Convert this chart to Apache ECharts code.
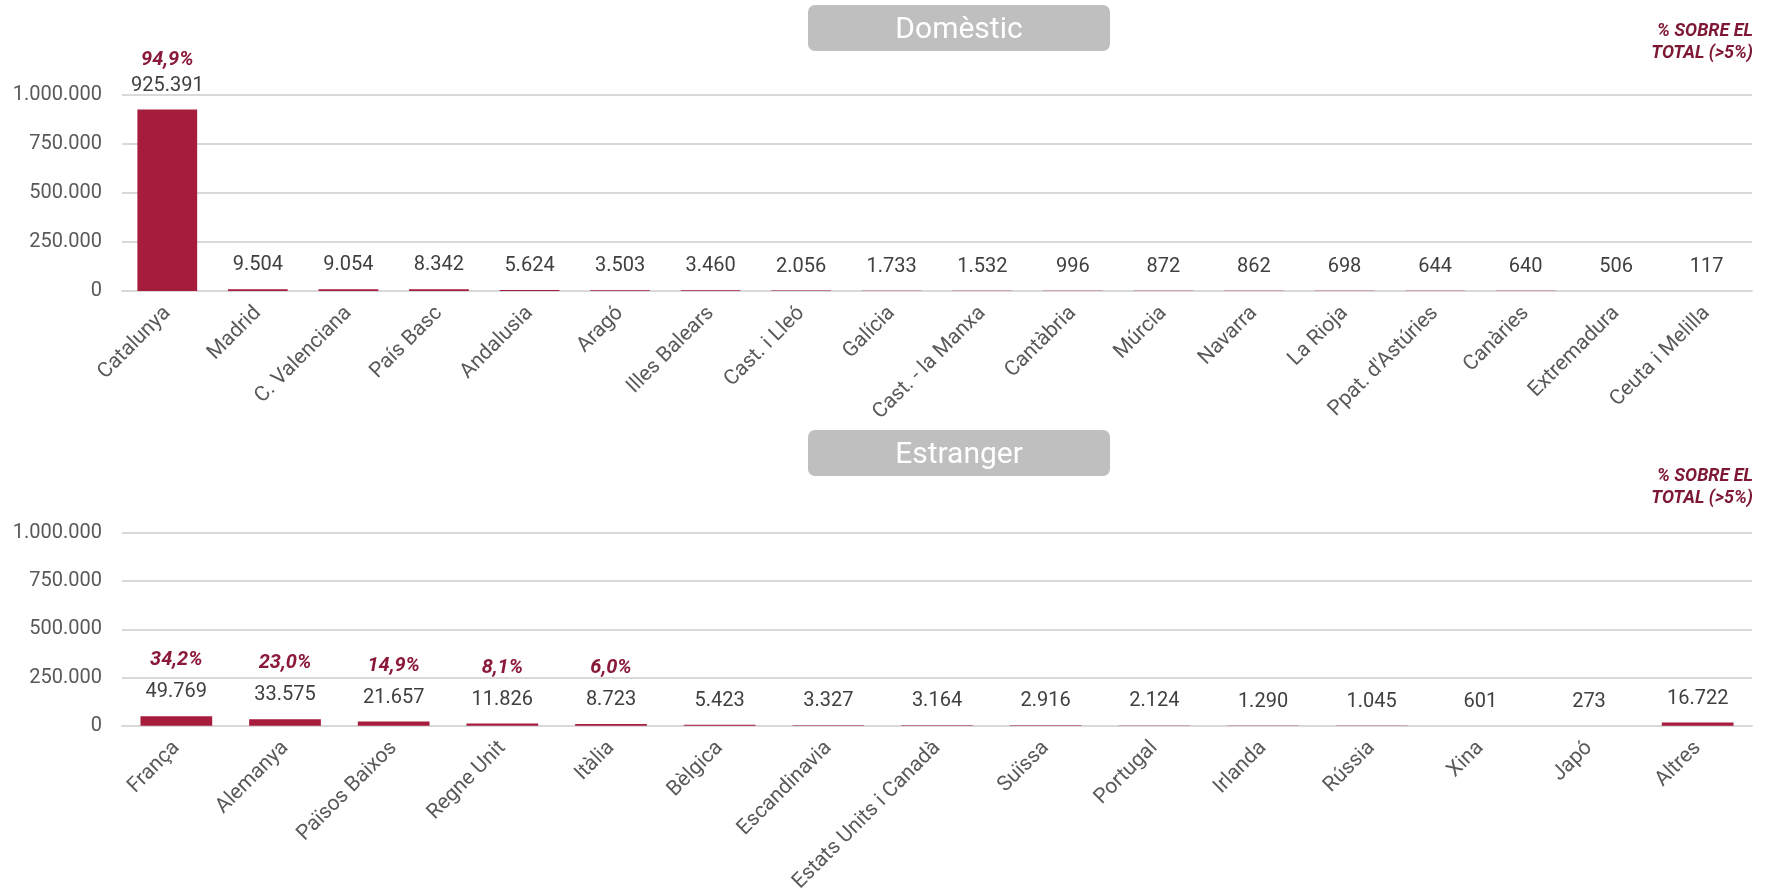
<!DOCTYPE html>
<html>
<head>
<meta charset="utf-8">
<style>
  html, body { margin: 0; padding: 0; background: #ffffff; }
  #chart { width: 1768px; height: 895px; }
</style>
<script src="https://cdn.jsdelivr.net/npm/echarts@6/dist/echarts.min.js"></script>
</head>
<body>
<div id="chart"></div>
<script>
// Visitors by origin: domestic regions and foreign countries
const domesticCategories = ['Catalunya', 'Madrid', 'C. Valenciana', 'País Basc', 'Andalusia', 'Aragó',
  'Illes Balears', 'Cast. i Lleó', 'Galícia', 'Cast. - la Manxa', 'Cantàbria', 'Múrcia', 'Navarra',
  'La Rioja', "Ppat. d'Astúries", 'Canàries', 'Extremadura', 'Ceuta i Melilla'];
const domesticValues = [925391, 9504, 9054, 8342, 5624, 3503, 3460, 2056, 1733, 1532, 996, 872, 862,
  698, 644, 640, 506, 117];
const domesticShare = [94.9, null, null, null, null, null, null, null, null, null, null, null, null,
  null, null, null, null, null];

const foreignCategories = ['França', 'Alemanya', 'Països Baixos', 'Regne Unit', 'Itàlia', 'Bèlgica',
  'Escandinavia', 'Estats Units i Canadà', 'Suïssa', 'Portugal', 'Irlanda', 'Rússia', 'Xina', 'Japó', 'Altres'];
const foreignValues = [49769, 33575, 21657, 11826, 8723, 5423, 3327, 3164, 2916, 2124, 1290, 1045, 601, 273, 16722];
const foreignShare = [34.2, 23.0, 14.9, 8.1, 6.0, null, null, null, null, null, null, null, null, null, null];

const yTicks = { min: 0, max: 1000000, interval: 250000 };
const panelTitles = ['Domèstic', 'Estranger'];
const shareNote = '% SOBRE EL\nTOTAL (>5%)';

const FONT = 'Roboto, "Noto Sans", sans-serif';
const BAR = '#A61C3C';
const SHARE = '#8B1A3A';

function thousands(n) {
  return String(n).replace(/\B(?=(\d{3})+(?!\d))/g, '.');
}
function shareText(p) {
  return p.toFixed(1).replace('.', ',') + '%';
}

function barSeries(idx, values, shares, shareLineHeight) {
  return {
    type: 'bar',
    xAxisIndex: idx,
    yAxisIndex: idx,
    barWidth: '66%',
    data: values,
    itemStyle: { color: BAR },
    label: {
      show: true,
      position: 'top',
      distance: 12,
      formatter: function (p) {
        const s = shares[p.dataIndex];
        const v = '{v|' + thousands(p.value) + '}';
        return s == null ? v : '{p|' + shareText(s) + '}\n' + v;
      },
      rich: {
        v: { fontFamily: FONT, fontSize: 20, color: '#404040', lineHeight: 24 },
        p: { fontFamily: FONT, fontSize: 20, fontWeight: 'bold', fontStyle: 'italic',
             color: SHARE, lineHeight: shareLineHeight }
      }
    }
  };
}

function xAxis(idx, cats) {
  return {
    type: 'category',
    gridIndex: idx,
    data: cats,
    axisTick: { show: false },
    axisLine: { show: true, lineStyle: { color: '#D9D9D9', width: 2 } },
    axisLabel: {
      interval: 0, rotate: 45, margin: 19,
      fontFamily: FONT, fontSize: 21, color: '#595959'
    }
  };
}

function yAxis(idx) {
  return {
    type: 'value',
    gridIndex: idx,
    min: yTicks.min, max: yTicks.max, interval: yTicks.interval,
    axisLine: { show: false },
    axisTick: { show: false },
    splitLine: { lineStyle: { color: '#D9D9D9', width: 2 } },
    axisLabel: {
      margin: 20, fontFamily: FONT, fontSize: 20, color: '#595959',
      formatter: function (v) { return thousands(v); }
    }
  };
}

function titleBox(y, text) {
  return {
    type: 'group',
    left: 808, top: y,
    children: [
      { type: 'rect', shape: { x: 0, y: 0, width: 302, height: 46, r: 7 },
        style: { fill: '#BFBFBF' } },
      { type: 'text', x: 151, y: 25,
        style: { text: text, fill: '#ffffff', font: '30px ' + FONT,
                 textAlign: 'center', textVerticalAlign: 'middle' } }
    ]
  };
}

function note(y) {
  return {
    type: 'text', x: 1753, y: y,
    style: { text: shareNote, fill: '#7D1733', font: 'italic bold 18px ' + FONT,
             textAlign: 'right', textVerticalAlign: 'top', lineHeight: 21.5 }
  };
}

const chart = echarts.init(document.getElementById('chart'));
chart.setOption({
  backgroundColor: '#ffffff',
  animation: false,
  grid: [
    { left: 122, right: 16, top: 95, height: 196 },
    { left: 122, right: 16, top: 533, height: 196 }
  ],
  xAxis: [xAxis(0, domesticCategories), xAxis(1, foreignCategories)],
  yAxis: [yAxis(0), yAxis(1)],
  series: [
    barSeries(0, domesticValues, domesticShare, 28),
    barSeries(1, foreignValues, foreignShare, 40)
  ],
  graphic: [
    titleBox(5, panelTitles[0]),
    titleBox(430, panelTitles[1]),
    note(21),
    note(466)
  ]
});
</script>
</body>
</html>
